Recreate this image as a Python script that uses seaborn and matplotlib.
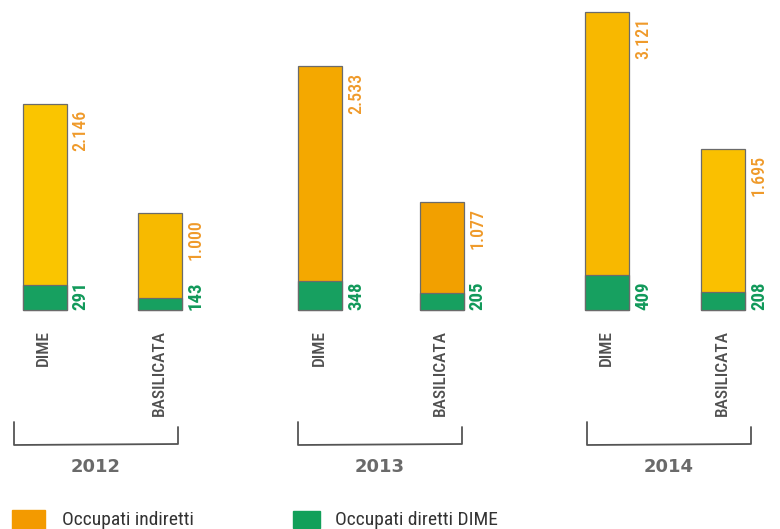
import matplotlib
matplotlib.use("Agg")
import matplotlib.pyplot as plt
from matplotlib import font_manager
import seaborn as sns
import pandas as pd

# --- data -------------------------------------------------------------
years = ["2012", "2013", "2014"]
areas = ["DIME", "BASILICATA"]
direct = [[291, 143], [348, 205], [409, 208]]          # Occupati diretti DIME
indirect = [[2146, 1000], [2533, 1077], [3121, 1695]]  # Occupati indiretti
legend_labels = ["Occupati indiretti", "Occupati diretti DIME"]

# --- style ------------------------------------------------------------
sns.set_theme(style="white")
names = {f.name for f in font_manager.fontManager.ttflist}
narrow = [n for n in ["Liberation Sans Narrow", "DejaVu Sans Condensed", "Roboto Condensed"] if n in names]
plt.rcParams["font.family"] = narrow + ["DejaVu Sans"]

ORANGE_TXT = "#EF9A2A"
GREEN_TXT = "#11995A"
GREEN = "#17A060"
bar_oranges = [["#FAC500", "#F7BA00"], ["#F4A800", "#F2A000"], ["#F8B800", "#FAC000"]]
GRAY = "#4f4f4f"

W, H = 780, 529
fig = plt.figure(figsize=(W / 100, H / 100), dpi=100)
fig.patch.set_facecolor("white")

def fx(px):
    return px / W

def fy(py):
    return 1 - py / H

baseline_px = 310
units_per_px = 11.83
ylim = (-(H - baseline_px) * units_per_px, baseline_px * units_per_px)

# bar centres in pixels for each year panel
centres = [(44.5, 160.0), (320.0, 441.5), (607.0, 723.0)]
bar_w_px = 44
brackets = [(14, 178), (298, 462), (587, 751)]

def fmt(v):
    return f"{v:,}".replace(",", ".")

for i, year in enumerate(years):
    c0, c1 = centres[i]
    step = c1 - c0
    left_px = c0 - 0.4 * step
    ax = fig.add_axes([fx(left_px), 0, 1.8 * step / W, 1])

    df = pd.DataFrame({
        "area": areas,
        "total": [d + n for d, n in zip(direct[i], indirect[i])],
        "direct": direct[i],
    })
    width = bar_w_px / step
    sns.barplot(data=df, x="area", y="total", hue="area", palette=bar_oranges[i],
                saturation=1, width=width, legend=False, ax=ax,
                edgecolor="#6b6b6b", linewidth=0.9, order=areas)
    sns.barplot(data=df, x="area", y="direct", color=GREEN, saturation=1,
                width=width, ax=ax, edgecolor="#6b6b6b", linewidth=0.9, order=areas)
    ax.set_xlim(-0.4, 1.4)
    ax.set_ylim(*ylim)
    ax.axis("off")

    for j, area in enumerate(areas):
        tot = direct[i][j] + indirect[i][j]
        xr = j + width / 2
        ax.annotate(fmt(indirect[i][j]), (xr, tot), xytext=(14, -6),
                    textcoords="offset pixels", rotation=90, ha="center", va="top",
                    color=ORANGE_TXT, fontsize=13, fontweight="medium")
        ax.annotate(fmt(direct[i][j]), (xr, 0), xytext=(14, 0),
                    textcoords="offset pixels", rotation=90, ha="center", va="bottom",
                    color=GREEN_TXT, fontsize=13.5, fontweight="bold")
        ax.annotate(area, (j, 0), xytext=(-1, -20), textcoords="offset pixels",
                    rotation=90, ha="center", va="top", color=GRAY, fontsize=12.5,
                    fontweight="medium")

    # bracket grouping the two bars of the year
    bl, br = brackets[i]
    fig.add_artist(plt.Line2D([fx(bl), fx(bl), fx(br), fx(br)],
                              [fy(422), fy(445), fy(444), fy(427)],
                              color="#555555", lw=1.3, transform=fig.transFigure))
    fig.text(fx((bl + br) / 2), fy(467), year, ha="center", va="center",
             fontsize=13, fontweight="bold", color="#6a6a6a", family="DejaVu Sans")

# legend
fig.patches.append(plt.Rectangle((fx(12), fy(530)), fx(45) - fx(12), fy(510) - fy(530),
                                 transform=fig.transFigure, color="#F39A00", zorder=3))
fig.patches.append(plt.Rectangle((fx(293), fy(528)), fx(320) - fx(293), fy(511) - fy(528),
                                 transform=fig.transFigure, color="#12A05A", zorder=3))
fig.text(fx(62), fy(520), legend_labels[0], ha="left", va="center", fontsize=14, color="#333333")
fig.text(fx(335), fy(520), legend_labels[1], ha="left", va="center", fontsize=14, color="#333333")

fig.savefig("out.png", dpi=100)
